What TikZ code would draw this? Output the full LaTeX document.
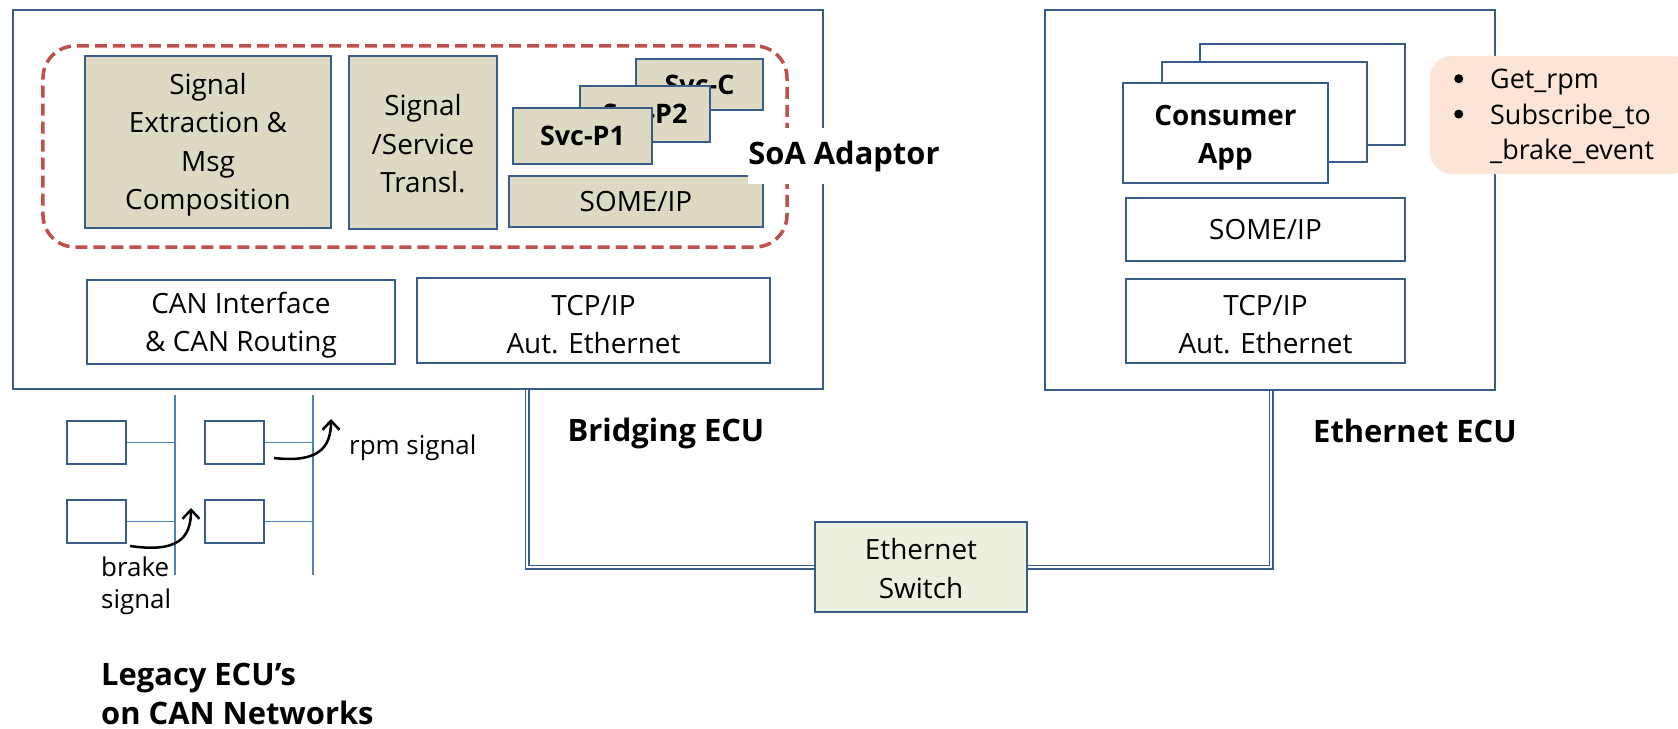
\documentclass[tikz,border=0pt]{standalone}
\usepackage{fontspec}
\setmainfont{Open Sans}
\usetikzlibrary{arrows.meta}
\definecolor{bord}{HTML}{385D8A}
\definecolor{beige}{HTML}{DDD9C3}
\definecolor{swfill}{HTML}{EBF1DE}
\definecolor{dashred}{HTML}{C0504D}
\definecolor{notefill}{HTML}{FCE4D6}
\definecolor{busblue}{HTML}{4F81BD}
\newcommand\lowr[1]{\rule{0pt}{#1bp}}
\newcommand\nbul{\tikz[baseline=-10bp]\fill (0,0) circle (4.5bp);}
\begin{document}
\begin{tikzpicture}[x=1bp,y=-1bp,
  wh/.style 2 args={minimum width=#1bp,minimum height=#2bp},
  blk/.style={draw=bord,line width=2bp,fill=white,inner sep=0pt,align=center,
    font=\fontsize{28}{38.5}\selectfont},
  svc/.style={blk,fill=beige},
  svcb/.style={svc,font=\bfseries\fontsize{27}{36}\selectfont},
  ecu/.style={draw=bord,line width=2bp,fill=white,inner sep=0pt},
  soa/.style={draw=dashred,line width=3.5bp,rounded corners=32bp,dash pattern=on 12bp off 6bp,inner sep=0pt},
  lbl/.style={inner sep=0pt,font=\bfseries\fontsize{31}{39}\selectfont},
  note/.style={fill=notefill,rounded corners=22bp,inner sep=0pt},
  txt/.style={inner sep=0pt,anchor=west,align=left,font=\fontsize{26}{32}\selectfont},
  dbl/.style={draw=bord,line width=1.7bp,double=white,double distance=1.6bp},
  bus/.style={draw=busblue,line width=1.3bp},
  canbox/.style={draw=bord,line width=2bp,fill=white,inner sep=0pt},
  sigarrow/.style={draw=black,line width=2.5bp,-{Straight Barb[length=9bp,width=17bp,line width=2.5bp]}}
]
\useasboundingbox (0,0) rectangle (1678,729);

% Bridging ECU
\node[ecu,wh={810}{379}] (bridge) at (418,199.5) {};
\node[soa,wh={744}{201}] (soabox) at (415,146.5) {};
\node[svc,wh={246}{172}] (extract) at (208,142) {\lowr{27}Signal\\Extraction \&\\Msg\\Composition};
\node[svc,wh={148}{173}] (transl) at (423,142.5) {\lowr{24}Signal\\/Service\\Transl.};
\node[svcb,wh={127}{51}] (svcc) at (699.5,84.5) {Svc-C};
\node[svcb,wh={130}{56}] (svcp2) at (645,114) {Svc-P2};
\node[svcb,wh={139}{56}] (svcp1) at (582.5,136) {Svc-P1};
\node[svc,wh={254}{51}] (someL) at (636,201.5) {SOME/IP};
\node[blk,wh={308}{84}] (can) at (241,322) {\lowr{28}CAN Interface\\\& CAN Routing};
\node[blk,wh={353}{85}] (tcpL) at (593.5,320.5) {\lowr{28}TCP/IP\\Aut. Ethernet};
\node[lbl,fill=white,inner ysep=13bp] (soalbl) at (844,156) {SoA Adaptor};

% Ethernet ECU
\node[ecu,wh={450}{380}] (eth) at (1270,200) {};
\node[blk,wh={205}{101}] (appc) at (1302.5,94.5) {};
\node[blk,wh={205}{100}] (appb) at (1264.5,112) {};
\node[blk,wh={205}{100},font=\bfseries\fontsize{28}{38.5}\selectfont] (appa) at (1225.5,133) {\lowr{30}Consumer\\App};
\node[blk,wh={279}{63}] (someR) at (1265.5,229.5) {SOME/IP};
\node[blk,wh={279}{84}] (tcpR) at (1265.5,321) {\lowr{28}TCP/IP\\Aut. Ethernet};
\node[note,wh={262}{118}] (note) at (1561,115) {};
\node[txt,font=\fontsize{27}{35.5}\selectfont] (notetxt) at (1454,117)
  {\begin{tabular}{@{}l@{\hspace{27bp}}l@{}}\nbul & Get\_rpm\\ \nbul & Subscribe\_to\\ & \_brake\_event\end{tabular}};

% labels
\node[lbl] (blbl) at (666,433) {Bridging ECU};
\node[lbl] (elbl) at (1415,431) {Ethernet ECU};

% switch and links
\node[blk,fill=swfill,wh={212}{90}] (switch) at (921,567) {\lowr{24}Ethernet\\Switch};
\coordinate (dlx) at (527,0);
\coordinate (drx) at (1271,0);
\draw[dbl] (bridge.south -| dlx) |- (switch.west);
\draw[dbl] (switch.east) -| (eth.south -| drx);

% CAN networks
\coordinate (b1t) at (175,395);
\coordinate (b1b) at (175,575);
\coordinate (b2t) at (313,395);
\coordinate (b2b) at (313,575);
\draw[bus] (b1t) -- (b1b);
\draw[bus] (b2t) -- (b2b);
\node[canbox,wh={59}{43}] (c1) at (96.5,442.5) {};
\node[canbox,wh={59}{43}] (c2) at (234.5,442.5) {};
\node[canbox,wh={59}{43}] (c3) at (96.5,521.5) {};
\node[canbox,wh={59}{43}] (c4) at (234.5,521.5) {};
\draw[bus] (c1.east) -- (c1.east -| b1t);
\draw[bus] (c2.east) -- (c2.east -| b2t);
\draw[bus] (c3.east) -- (c3.east -| b1t);
\draw[bus] (c4.east) -- (c4.east -| b2t);

\coordinate (rpmS) at (274,458);
\coordinate (rpmE) at (331,419);
\draw[sigarrow] (rpmS) .. controls (318,463) and (331,448) .. (rpmE);
\coordinate (brkS) at (130,546);
\coordinate (brkE) at (191,508);
\draw[sigarrow] (brkS) .. controls (178,553) and (191,538) .. (brkE);

\node[txt] (rpmtxt) at (349,448) {rpm signal};
\node[txt] (brktxt) at (101,586) {brake\\signal};
\node[lbl,anchor=west,align=left] (legacy) at (101,694) {Legacy ECU’s\\on CAN Networks};
\end{tikzpicture}
\end{document}
